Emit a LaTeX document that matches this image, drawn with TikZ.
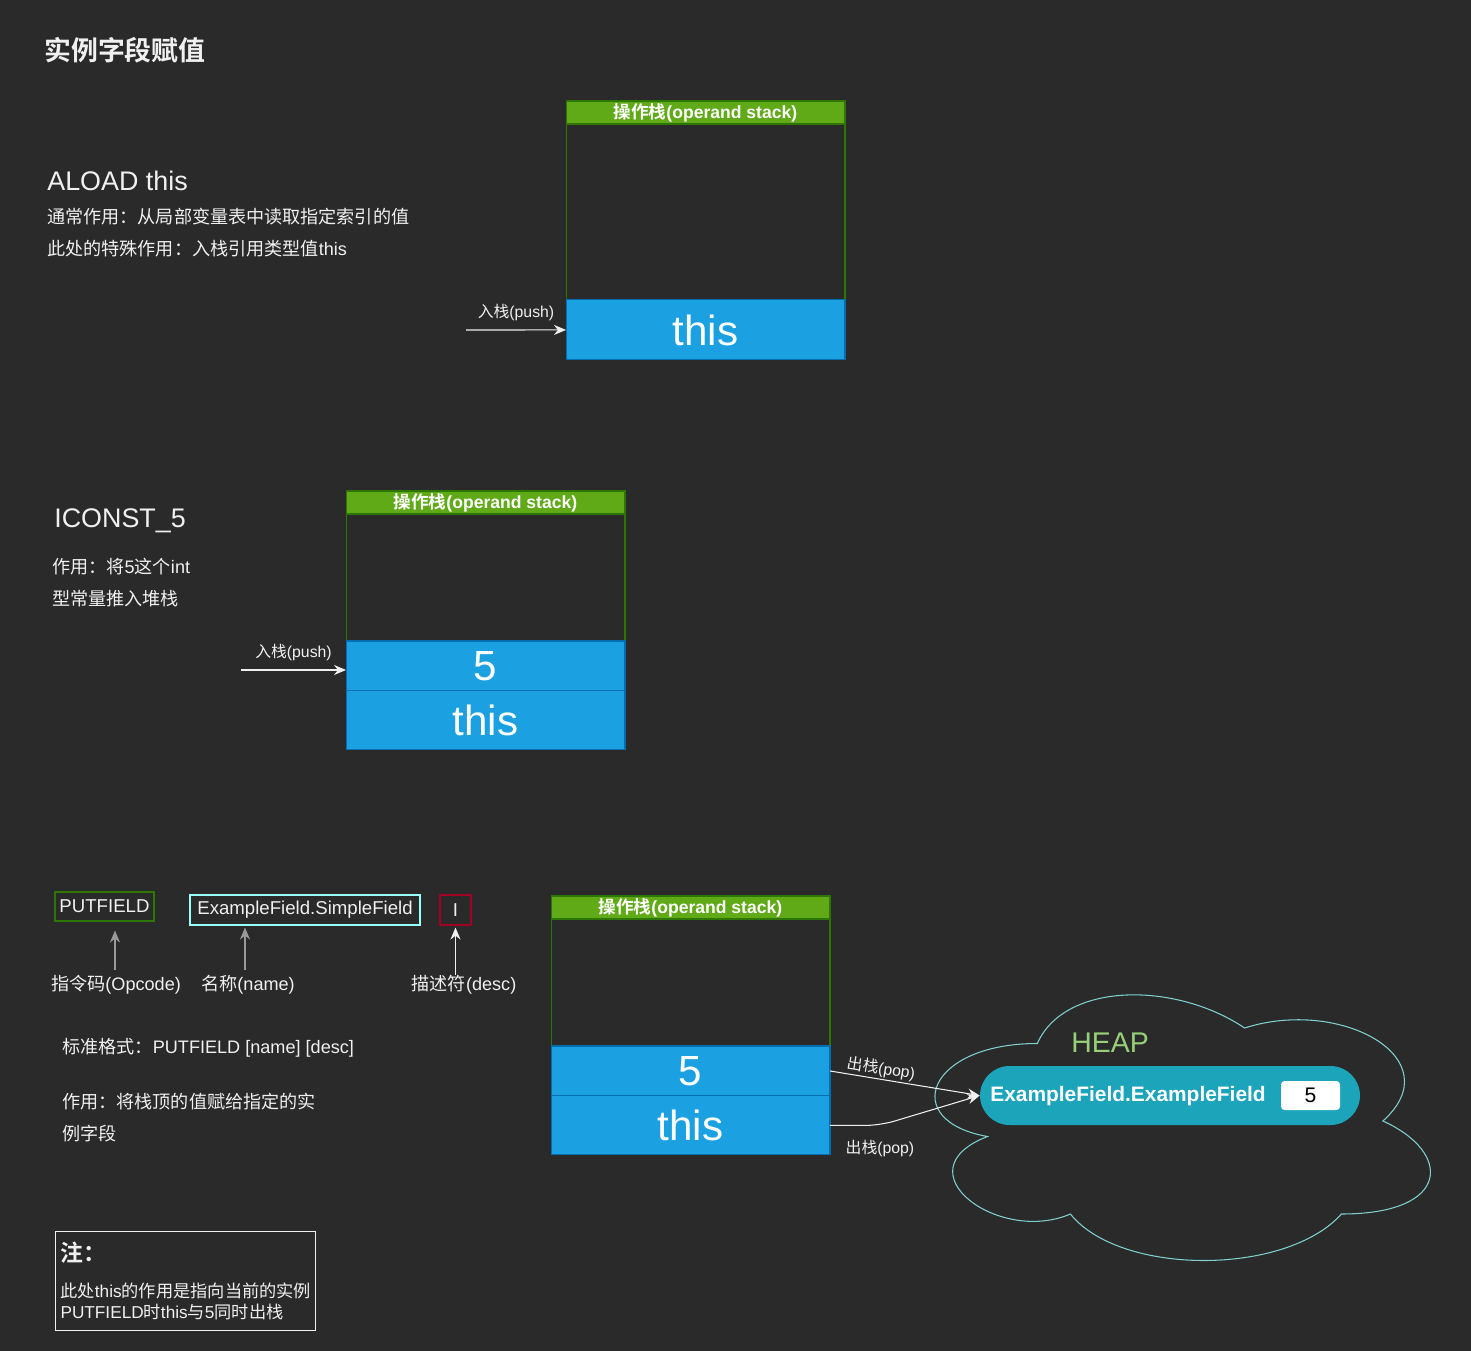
\documentclass[tikz,border=0pt]{standalone}
\usepackage{fontspec}
\setmainfont{Liberation Sans}
\newfontfamily\cjk{Noto Sans CJK SC}[BoldFont={Noto Sans CJK SC Bold}]
\newcommand\zh[1]{{\cjk #1}}
\usetikzlibrary{arrows.meta,positioning,calc}
\definecolor{bg}{HTML}{2A2A2A}
\definecolor{ink}{HTML}{F0F0F0}
\definecolor{hgreen}{HTML}{60A917}
\definecolor{dgreen}{HTML}{2D7600}
\definecolor{cblue}{HTML}{1BA1E2}
\definecolor{dblue}{HTML}{006EAF}
\definecolor{hintgray}{HTML}{999999}
\definecolor{nmcyan}{HTML}{99FFFF}
\definecolor{dcrimson}{HTML}{A20025}
\definecolor{heapline}{HTML}{80D0D0}
\definecolor{heapgreen}{HTML}{97D077}
\definecolor{pillteal}{HTML}{1CA4BA}

\begin{document}
\begin{tikzpicture}[x=0.02cm, y=-0.02cm, >={Stealth[length=2.4mm,width=2.0mm]},
  txt/.style={text=ink, anchor=west, inner sep=0pt, font=\fontsize{10.3}{12}\selectfont},
  big/.style={txt, font=\fontsize{15.3}{18}\selectfont},
  hdr/.style={fill=hgreen, draw=dgreen, line width=0.6pt, text=white, minimum width=5.58cm, minimum height=0.46cm,
    inner sep=0pt, outer sep=0pt, font=\bfseries\fontsize{10}{12}\selectfont},
  body/.style={draw=dgreen, line width=0.6pt, minimum width=5.58cm, inner sep=0pt, outer sep=0pt},
  cell/.style={fill=cblue, draw=dblue, line width=0.6pt, text=white, minimum width=5.58cm, inner sep=0pt,
    outer sep=0pt, font=\fontsize{24}{24}\selectfont},
  flow/.style={->, draw=ink, line width=0.6pt},
  lab/.style={text=ink, inner sep=1pt, font=\fontsize{9}{11}\selectfont},
  field/.style={draw, line width=0.6pt, text=ink, inner sep=0pt, font=\fontsize{10.6}{12}\selectfont},
  hint/.style={->, draw=hintgray, line width=1pt}]

% ---------------- canvas
\fill[bg] (0,0) rectangle (1471,1351);
\node[txt, font=\bfseries\fontsize{15.3}{18}\selectfont] (title) at (44,50) {\zh{实例字段赋值}};

% ---------------- ALOAD this
\node[big] (aload) at (47,181) {ALOAD this};
\node[txt] (aloadA) at (47,217) {\zh{通常作用：从局部变量表中读取指定索引的值}};
\node[txt] (aloadB) at (47,249) {\zh{此处的特殊作用：入栈引用类型值}this};

\node[hdr] (hdA) at (705.5,112.5) {\zh{操作栈}(operand stack)};
\node[body, minimum height=3.52cm, below=0pt of hdA] (bodyA) {};
\node[cell, minimum height=1.2cm, below=0pt of bodyA] (thisA) {this};
\coordinate (inA) at (466,330);
\draw[flow] (inA) -- node[lab, above=4pt] {\zh{入栈}(push)} (thisA.west);

% ---------------- ICONST_5
\node[big] (iconst) at (54,521) {ICONST\_5};
\node[txt] (iconstA) at (52,567) {\zh{作用：将}5\zh{这个}int};
\node[txt] (iconstB) at (52,599) {\zh{型常量推入堆栈}};

\node[hdr] (hdB) at (485.5,502.5) {\zh{操作栈}(operand stack)};
\node[body, minimum height=2.54cm, below=0pt of hdB] (bodyB) {};
\node[cell, minimum height=1.0cm, below=0pt of bodyB] (fiveB) {5};
\node[cell, minimum height=1.18cm, below=0pt of fiveB] (thisB) {this};
\coordinate (inB) at (241,670);
\draw[flow] (inB) -- node[lab, above=4pt] {\zh{入栈}(push)} (inB -| fiveB.west);

% ---------------- PUTFIELD
\node[field, draw=dgreen, minimum width=1.98cm, minimum height=0.58cm] (opc) at (104.5,906.5) {PUTFIELD};
\node[field, draw=nmcyan, minimum width=4.6cm, minimum height=0.6cm] (nm) at (305,910) {ExampleField.SimpleField};
\node[field, draw=dcrimson, minimum width=0.62cm, minimum height=0.6cm] (desc) at (455.5,910) {I};
\node[txt, anchor=center] (opcL) at (116,985) {\zh{指令码}(Opcode)};
\node[txt, anchor=center] (nmL) at (248,985) {\zh{名称}(name)};
\node[txt, anchor=center] (descL) at (464,985) {\zh{描述符}(desc)};
\draw[hint, shorten <=0.1cm, shorten >=0.18cm] ($(opcL.north)+(-1,0)$) -- ($(opcL.north |- opc.south)+(-1,0)$);
\draw[hint, shorten <=0.1cm, shorten >=0.04cm] ($(nmL.north)+(-3,0)$) -- ($(nmL.north |- nm.south)+(-3,0)$);
\draw[flow, shorten >=0.04cm] (desc.south |- descL.north) -- (desc.south);

\node[txt] (fmt) at (62,1048) {\zh{标准格式：}PUTFIELD [name] [desc]};
\node[txt] (useA) at (62,1102) {\zh{作用：将栈顶的值赋给指定的实}};
\node[txt] (useB) at (62,1134) {\zh{例字段}};

\node[hdr] (hdC) at (690.5,907.5) {\zh{操作栈}(operand stack)};
\node[body, minimum height=2.54cm, below=0pt of hdC] (bodyC) {};
\node[cell, minimum height=1.0cm, below=0pt of bodyC] (fiveC) {5};
\node[cell, minimum height=1.18cm, below=0pt of fiveC] (thisC) {this};

% ---------------- heap
\draw[heapline, line width=0.6pt] (1037.3,1043.5) .. controls (926.7,1043.5) and (899,1121) .. (987.5,1136.5)
  .. controls (899,1170.6) and (998.5,1245) .. (1070.4,1214)
  .. controls (1120.2,1276) and (1286.1,1276) .. (1341.4,1214)
  .. controls (1452,1214) and (1452,1152) .. (1382.9,1121)
  .. controls (1452,1059) and (1341.4,997) .. (1244.6,1028)
  .. controls (1175.5,981.5) and (1064.9,981.5) .. (1037.3,1043.5) -- cycle;
\node[text=heapgreen, font=\fontsize{16.2}{18}\selectfont, inner sep=0pt] (heap) at (1110,1043) {HEAP};
\node[fill=pillteal, rounded corners=0.59cm, minimum width=7.6cm, minimum height=1.18cm, inner sep=0pt] (ef) at (1170,1095.5) {};
\node[txt, text=white, font=\bfseries\fontsize{11.9}{14}\selectfont] (efName) at (990,1096) {ExampleField.ExampleField};
\node[fill=white, rounded corners=2pt, minimum width=1.18cm, minimum height=0.58cm, inner sep=0pt,
  font=\fontsize{12}{14}\selectfont] (efVal) at (1310.5,1095.5) {5};

\draw[flow] (fiveC.east) -- node[lab, sloped, above, pos=0.33] {\zh{出栈}(pop)} (ef.west);
\draw[flow, rounded corners=0.3cm] (thisC.east) -- ++(50,0) node[lab, below=7pt] {\zh{出栈}(pop)} -- (ef.west);

% ---------------- note
\node[draw=ink, line width=0.6pt, anchor=north west, text=ink, align=left, text width=5.0cm, inner xsep=0.1cm,
  minimum height=1.98cm] (note) at (55,1231)
  {\zh{\bfseries\fontsize{13}{16}\selectfont 注：}\\[9pt]
   \fontsize{9.8}{11.4}\selectfont\zh{此处}this\zh{的作用是指向当前的实例}\\
   PUTFIELD\zh{时}this\zh{与}5\zh{同时出栈}};
\end{tikzpicture}
\end{document}
